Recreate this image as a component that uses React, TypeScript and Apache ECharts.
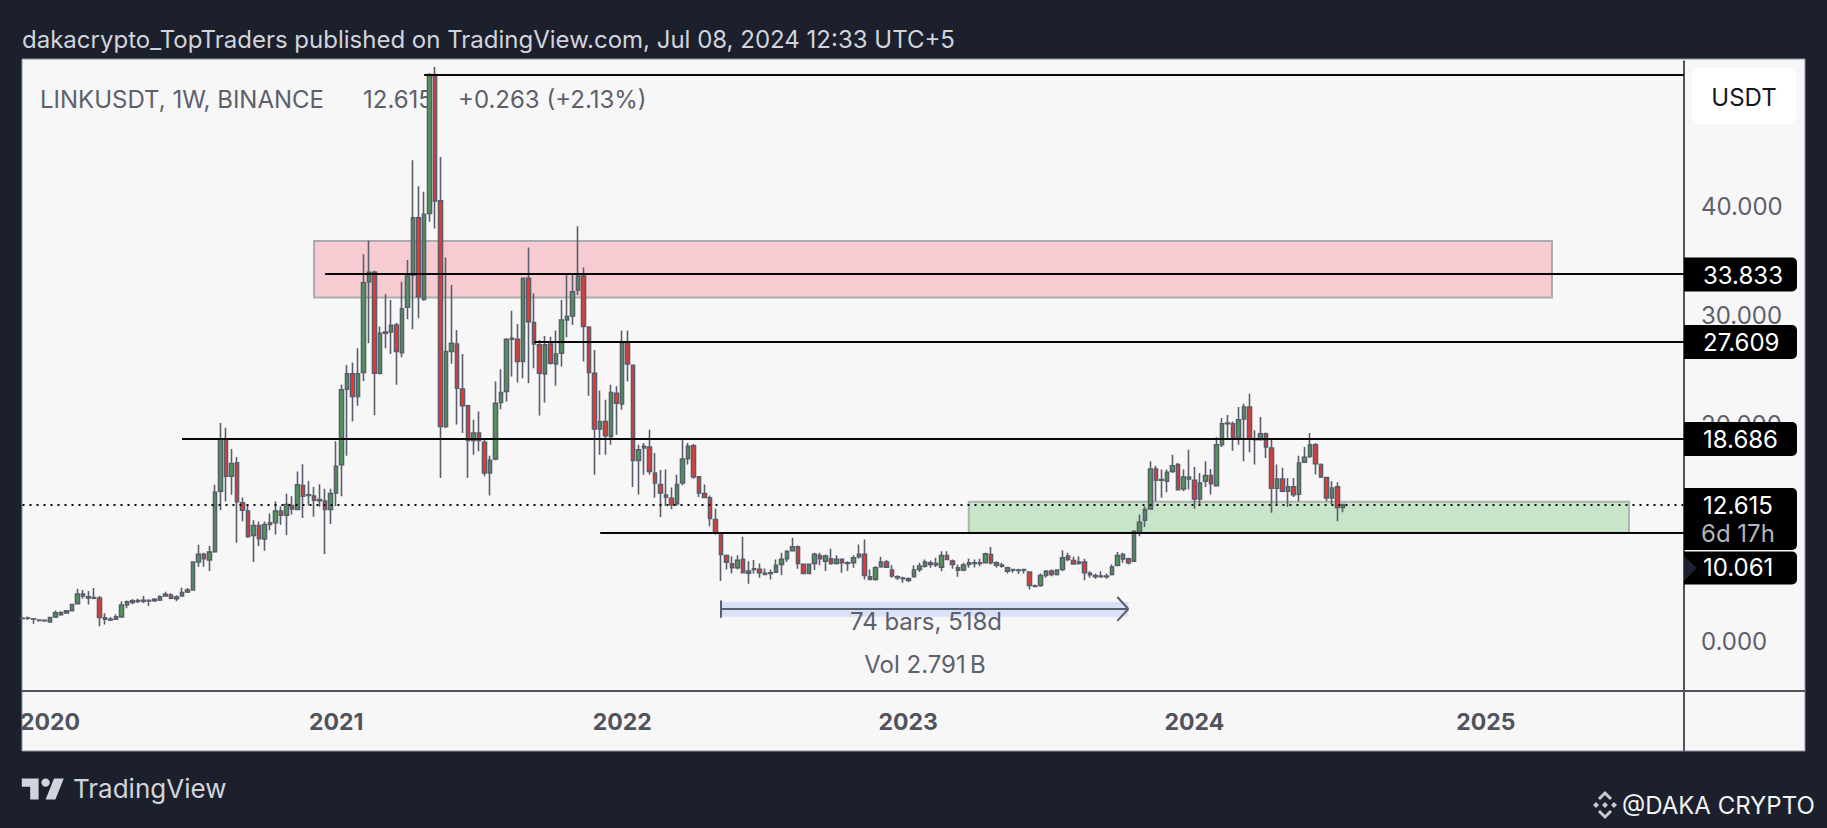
import React, { useEffect, useRef } from "react";
import * as echarts from "echarts";

// Weekly candles: [open, close, low, high]
const bars2019 = [
  [2.14,2.17,2.07,2.26],[2.16,2.19,2.0,2.32],[2.12,2.09,1.65,2.16],[1.99,1.96,1.86,2.0],[1.95,1.97,1.85,2.01],
];
const bars2020 = [
  [1.83,2.23,1.8,2.29],[2.29,2.66,2.2,2.87],[2.5,2.69,2.4,2.8],[2.66,2.84,2.6,2.93],[2.87,3.42,2.81,3.48],
  [3.51,4.4,3.42,4.89],[4.22,4.4,3.97,4.77],[4.03,4.15,3.42,4.67],[4.0,4.06,3.91,4.95],[4.03,2.23,1.43,4.22],
  [2.2,2.07,1.59,2.62],[2.07,2.01,1.92,2.29],[2.07,2.29,2.01,2.53],[2.29,3.39,2.23,3.72],[3.39,3.67,3.08,3.79],
  [3.63,3.76,3.45,3.94],[3.72,3.79,3.57,3.97],[3.73,3.82,3.54,4.22],[3.76,3.79,3.3,3.91],[3.79,3.91,3.67,4.03],
  [3.85,4.15,3.76,4.28],[4.22,4.37,4.15,4.61],[4.31,4.0,3.91,4.46],[3.97,4.12,3.73,4.28],[4.22,4.52,4.15,4.98],
  [4.58,4.77,4.49,4.95],[4.77,7.34,4.71,7.4],[7.34,8.04,6.91,8.93],[8.04,7.64,6.91,8.19],[7.52,8.25,6.51,8.81],
  [8.29,13.76,8.19,14.44],[13.86,18.6,12.11,20.13],[18.66,15.23,12.91,19.7],[15.23,16.39,13.52,17.74],[16.46,12.88,9.11,17.0],
  [12.78,12.11,11.1,13.27],[12.02,9.66,9.57,12.6],[9.79,10.7,7.34,11.19],[10.7,9.48,8.81,11.07],[9.45,10.79,8.38,11.07],
  [10.79,10.95,10.27,11.8],[10.95,12.02,9.88,12.91],[12.02,11.65,10.76,12.48],[11.65,12.63,9.82,13.61],[12.54,12.23,11.71,13.4],
  [12.17,14.44,12.11,15.66],[14.38,13.4,11.38,16.33],[13.46,13.52,12.54,14.8],[13.4,13.03,11.5,14.25],[12.97,13.09,12.42,14.5],
  [12.94,12.17,8.07,14.07],[12.17,13.64,10.83,14.07],
];
const bars2021 = [
  [13.7,16.15,12.48,18.45],[16.29,23.18,13.39,23.64],[23.24,24.65,17.12,25.47],[24.65,22.57,20.27,25.69],[22.57,24.65,21.71,27.0],
  [24.77,33.03,24.0,35.66],[33.12,33.98,27.46,36.89],[33.98,24.71,20.83,34.13],[24.71,28.38,24.6,29.0],[28.38,28.5,27.0,31.96],
  [28.5,29.11,26.48,31.44],[29.14,26.7,23.64,29.36],[26.6,30.64,26.18,33.12],[30.77,33.64,29.67,35.11],[33.73,39.0,28.75,44.3],
  [39.0,31.75,29.76,41.9],[31.5,39.33,31.38,41.39],[39.4,52.19,38.63,52.31],[52.19,40.56,38.02,52.88],[40.56,19.81,15.07,44.6],
  [19.81,26.7,19.66,35.36],[26.7,27.46,25.57,32.82],[27.4,23.33,19.98,28.69],[23.24,21.71,19.2,26.48],[21.71,18.53,15.07,21.8],
  [18.53,19.2,17.21,20.43],[19.2,18.53,17.52,21.18],[18.35,15.53,15.22,18.59],[15.53,16.69,13.45,17.12],[16.81,21.95,16.69,23.94],
  [22.01,22.93,21.4,25.07],[23.03,27.83,22.11,27.92],[27.83,27.92,24.4,30.46],[27.83,25.78,23.85,29.24],[25.78,33.43,24.25,33.43],
  [33.43,29.45,23.79,36.27],[29.36,27.4,25.17,32.05],[27.31,24.71,20.82,27.77],[24.65,27.31,22.02,28.14],[27.4,25.63,25.48,28.07],
  [25.57,26.48,23.55,28.63],[26.54,29.6,25.32,31.44],[29.6,29.91,28.01,33.83],[29.97,32.2,29.15,33.83],[32.36,33.64,31.9,38.23],
  [33.64,29.0,25.78,34.44],[28.93,24.77,22.63,29.05],[24.71,19.57,15.37,26.85],[19.57,20.27,17.21,23.12],[20.27,18.96,17.21,22.26],
  [18.9,22.93,18.13,23.64],[22.87,21.95,19.05,23.5],
];
const bars2022 = [
  [21.89,27.52,21.34,28.63],[27.52,25.57,23.94,28.63],[25.44,16.69,14.24,25.47],[16.69,17.67,13.54,18.13],[17.83,17.98,15.37,18.28],
  [17.92,15.68,15.37,19.5],[15.53,14.61,13.24,17.36],[14.46,13.69,11.47,15.8],[13.5,13.3,12.5,15.86],[13.2,12.6,12.2,14.2],
  [12.7,14.46,12.5,15.37],[14.61,16.81,14.4,18.6],[16.85,17.98,16.3,18.28],[18.04,15.17,15.0,18.2],[15.17,13.7,13.33,15.23],
  [13.64,13.27,13.24,14.46],[13.24,11.34,10.64,13.45],[11.25,10.03,9.87,12.23],[9.97,8.04,5.59,10.03],[7.94,7.33,6.66,8.04],
  [7.18,6.81,6.29,7.88],[6.81,7.49,6.66,7.95],[7.58,6.35,6.29,9.66],[6.5,6.32,5.34,7.42],[6.66,6.72,6.29,7.52],
  [6.66,6.35,5.9,7.21],[6.29,6.2,6.11,6.75],[6.29,6.35,5.74,6.66],[6.41,7.03,6.35,7.58],[7.12,7.58,6.11,8.19],
  [7.64,8.31,7.33,8.44],[8.37,8.74,8.34,9.57],[8.74,7.21,6.72,8.86],[7.12,6.29,6.23,7.21],[6.29,7.12,6.23,7.21],
  [7.21,8.04,6.6,8.19],[7.94,7.64,7.03,8.19],[7.42,7.88,6.51,8.04],[7.64,7.21,7.09,8.56],[7.21,7.58,7.12,7.95],
  [7.58,7.27,6.35,7.64],[7.21,7.27,6.51,7.4],[7.27,7.73,6.81,7.95],[7.82,8.04,7.64,8.95],[8.04,6.11,5.74,9.41],
  [5.99,5.74,5.68,6.66],[5.74,6.81,5.62,6.97],[6.91,7.33,6.81,7.82],[7.33,6.87,6.78,7.52],[6.6,6.05,5.9,7.03],
  [5.99,5.9,5.68,6.11],[5.8,5.87,5.44,5.99],
];
const bars2023 = [
  [5.8,5.65,5.5,5.93],[5.99,6.6,5.93,7.03],[6.66,6.97,6.41,7.27],[6.96,7.33,6.81,7.57],[7.27,7.11,6.81,7.48],
  [7.08,7.2,6.87,7.73],[6.87,7.94,6.5,8.34],[7.94,7.57,7.51,8.34],[7.42,7.11,6.72,7.57],[6.81,6.59,5.98,7.11],
  [6.62,7.05,6.5,7.27],[7.11,7.27,6.81,7.66],[7.2,7.27,6.84,7.57],[7.27,7.2,6.96,7.63],[7.27,8.09,7.2,8.18],
  [8.03,7.27,7.11,8.73],[7.05,7.27,6.81,7.42],[7.05,6.96,6.81,7.27],[6.5,6.81,6.29,6.9],[6.59,6.65,6.35,6.72],
  [6.59,6.56,6.23,6.72],[6.59,6.65,6.29,6.72],[6.41,5.19,4.82,6.47],[5.16,5.1,5.06,5.28],[5.19,6.1,5.06,6.29],
  [6.1,6.5,5.89,6.59],[6.5,6.2,6.04,6.65],[6.2,6.59,6.1,6.65],[6.65,7.72,6.5,8.43],[7.88,7.57,7.42,8.18],
  [7.48,7.17,7.08,7.82],[7.2,7.33,7.11,7.88],[7.33,6.35,5.67,7.63],[6.29,6.17,5.89,6.5],[6.1,5.98,5.8,6.29],
  [6.04,5.98,5.89,6.5],[5.98,6.04,5.8,6.29],[6.2,6.87,6.1,7.11],[7.02,7.94,6.96,8.25],[7.63,8.03,7.27,8.18],
  [7.63,7.27,7.11,7.73],[7.42,10.17,7.33,10.26],[10.08,11.0,9.72,11.7],[11.19,12.16,10.57,12.47],[12.23,15.9,12.16,16.6],
  [15.9,14.86,12.93,16.2],[14.86,14.92,13.24,15.84],[14.77,15.59,13.76,15.84],[15.68,16.2,15.53,17.21],[16.3,14.0,13.94,16.45],
  [14.06,15.16,13.85,15.84],[14.98,15.16,14.0,17.67],
];
const bars2024 = [
  [14.86,13.14,12.23,16.08],[13.14,14.61,12.62,15.53],[14.77,15.29,14.25,16.6],[15.29,14.55,13.54,15.9],[14.37,18.13,14.31,18.83],
  [18.13,20.06,17.92,20.58],[20.06,20.12,18.75,20.86],[20.06,18.74,17.58,20.27],[18.74,20.43,18.13,21.59],[20.49,21.59,16.6,21.89],
  [21.59,18.65,17.43,22.81],[18.65,18.59,16.3,19.45],[18.59,19.14,18.53,20.67],[19.14,17.92,16.91,19.26],[17.83,14.12,11.86,18.65],
  [14.12,14.98,12.62,16.3],[14.98,13.85,13.76,16.0],[13.85,14.25,12.41,15.07],[14.25,13.54,13.33,15.07],[13.57,16.45,12.93,17.12],
  [16.51,16.97,16.45,17.92],[17.06,18.13,16.91,19.2],[18.13,16.39,15.38,18.28],[16.3,15.16,15.07,16.39],[15.1,13.23,12.93,15.16],
  [13.23,14.15,12.62,14.77],[14.25,12.35,11.09,14.67],[12.352,12.615,11.92,12.68],
];

const candles = [...bars2019, ...bars2020, ...bars2021, ...bars2022, ...bars2023, ...bars2024];

// Time axis: one slot per week, from the first Monday visible to the price scale
const firstWeek = Date.UTC(2019, 11, 2);
const weekCount = 303;
const weeks = Array.from({ length: weekCount }, (_, i) =>
  new Date(firstWeek + i * 7 * 86400000).toISOString().slice(0, 10)
);
const yearBars = [5, 57, 109, 161, 213, 266];
const yearLabels = ["2020", "2021", "2022", "2023", "2024", "2025"];

// Drawn levels: [value, first bar]
const lineLevels = [
  [52.19, 73],
  [33.833, 55],
  [27.609, 93],
  [18.686, 29],
  [10.061, 105],
];
const lastPrice = 12.615;
const redZone = { fromBar: 53, toBar: 278, top: 36.87, bottom: 31.67 };
const greenZone = { fromBar: 172, toBar: 292, top: 12.88, bottom: 10.03 };
const rangeTool = { fromBar: 127, toBar: 201, mid: 3.02, top: 3.69, bottom: 2.31 };

const priceBadges = ["33.833", "27.609", "18.686"];
const hiddenPriceLabels = [-10, 10, 50];

const FONT = "Inter, 'Noto Sans', sans-serif";
const INK = "#5d606b";
const BODY_BORDER = "#5a5d6b";
const TV_LOGO = "M14 6H2v6h6v9h6V6Zm12 15h-7l6-15h7l-6 15Zm-7-9a3 3 0 1 0 0-6 3 3 0 0 0 0 6Z";

function text(str: string, x: number, y: number, fill: string, size: number, z: number, align = "left", weight = "normal") {
  return {
    type: "text",
    z,
    silent: true,
    style: {
      text: str, x, y, fill,
      font: `${weight} ${size}px ${FONT}`,
      align, verticalAlign: "middle",
      textAlign: align, textVerticalAlign: "middle",
    },
  };
}

function badge(y: number, height: number) {
  return {
    type: "rect", z: 50, silent: true,
    shape: { x: 1684, y: y - height / 2, width: 113, height, r: [0, 5, 5, 0] },
    style: { fill: "#000000" },
  };
}

export default function App() {
  const ref = useRef<HTMLDivElement>(null);
  useEffect(() => {
    document.body.style.margin = "0";
    document.body.style.background = "#1c202c";
    echarts.graphic.registerShape("tvmark", echarts.graphic.extendPath(TV_LOGO, {}));

    const chart = echarts.init(ref.current!, undefined, { renderer: "svg" });

    const blackLine = { color: "#080808", width: 2, type: "solid" };
    const toolLine = { color: "#5a5d6b", width: 2, type: "solid" };
    const markLines: any[] = lineLevels.map(([value, bar]) => [
      { coord: [bar, value], lineStyle: blackLine },
      { coord: [weekCount - 1, value] },
    ]);
    markLines.push([
      { coord: [0, lastPrice], lineStyle: { color: "#0a0a0a", width: 2, type: [2, 5] } },
      { coord: [weekCount - 1, lastPrice] },
    ]);
    const t = rangeTool;
    markLines.push(
      [{ coord: [t.fromBar, t.mid], lineStyle: toolLine }, { coord: [t.toBar, t.mid] }],
      [{ coord: [t.fromBar, t.top + 0.1], lineStyle: toolLine }, { coord: [t.fromBar, t.bottom - 0.1] }],
      [{ coord: [t.toBar - 2, t.mid + 1.1], lineStyle: toolLine }, { coord: [t.toBar, t.mid] }],
      [{ coord: [t.toBar - 2, t.mid - 1.1], lineStyle: toolLine }, { coord: [t.toBar, t.mid] }]
    );

    const zone = (z: any, fill: string, border: string) => [
      { coord: [z.fromBar, z.top], itemStyle: { color: fill, borderColor: border, borderWidth: 2 } },
      { coord: [z.toBar, z.bottom] },
    ];

    chart.setOption({
      animation: false,
      backgroundColor: "#1c202c",
      textStyle: { fontFamily: FONT },
      grid: { left: 22.5, right: 143, top: 61.3, bottom: 77.5, containLabel: false },
      xAxis: {
        type: "category",
        data: weeks,
        boundaryGap: false,
        axisLine: { show: false },
        axisTick: { show: false },
        splitLine: { show: false },
        axisLabel: {
          inside: true,
          margin: 17,
          hideOverlap: false,
          interval: (i: number) => yearBars.includes(i),
          formatter: (v: string) => {
            const at = yearBars.indexOf(weeks.indexOf(v));
            return at >= 0 ? yearLabels[at] : "";
          },
          color: "#50535e",
          fontSize: 23,
          fontWeight: "bold",
          fontFamily: FONT,
        },
      },
      yAxis: {
        type: "value",
        position: "right",
        min: -10,
        max: 53.4,
        interval: 10,
        scale: false,
        splitLine: { show: false },
        axisTick: { show: false },
        axisLine: { show: true, onZero: false, lineStyle: { color: "#50535e", width: 2 } },
        axisLabel: {
          margin: 17,
          showMaxLabel: false,
          color: INK,
          fontSize: 24,
          fontFamily: FONT,
          formatter: (v: number) => (hiddenPriceLabels.includes(v) ? "" : v.toFixed(3)),
        },
        z: 3,
      },
      series: [
        {
          type: "candlestick",
          data: candles,
          barWidth: 4,
          z: 10,
          itemStyle: {
            color: "#4e9a58",
            color0: "#f0372f",
            borderColor: BODY_BORDER,
            borderColor0: BODY_BORDER,
            borderWidth: 1.6,
          },
          silent: true,
          markArea: {
            silent: true,
            z: 1,
            data: [
              zone(redZone, "#f6ccd2", "#a9abaf"),
              zone(greenZone, "#c9e5c9", "#aeb4ae"),
              [
                { coord: [t.fromBar, t.top], itemStyle: { color: "#d8e1f6" } },
                { coord: [t.toBar, t.bottom] },
              ],
            ],
          },
          markLine: { silent: true, symbol: "none", label: { show: false }, z: 20, data: markLines },
        },
      ],
      graphic: [
        // panel behind the plot
        { type: "rect", z: 0, silent: true, shape: { x: 22, y: 59, width: 1783, height: 692 }, style: { fill: "#f7f7f7", stroke: "#8f929c", lineWidth: 1 } },
        text("dakacrypto_TopTraders published on TradingView.com, Jul 08, 2024 12:33 UTC+5", 22, 39, "#d1d4dc", 24, 1),
        text("LINKUSDT, 1W, BINANCE", 40, 99, INK, 24, 1),
        text("12.615", 363, 99, INK, 24, 1),
        text("+0.263 (+2.13%)", 458, 99, INK, 24, 1),
        // time scale
        { type: "line", z: 5, silent: true, shape: { x1: 22, y1: 691, x2: 1805, y2: 691 }, style: { stroke: "#50535e", lineWidth: 2 } },
        // range tool captions
        text("74 bars, 518d", 926, 621, INK, 24, 30, "center"),
        text("Vol 2.791\u202FB", 925, 664, INK, 24, 30, "center"),
        // currency button
        { type: "rect", z: 40, silent: true, shape: { x: 1692, y: 68, width: 104, height: 56, r: 8 }, style: { fill: "#ffffff" } },
        text("USDT", 1744, 97, "#131722", 24, 41, "center"),
        // price badges
        badge(274.5, 34), badge(342, 34), badge(439, 34),
        badge(519, 62),
        badge(568, 33),
        { type: "polygon", z: 51, silent: true, shape: { points: [[1684, 556], [1697, 568], [1684, 581]] }, style: { fill: "#1c2233" } },
        text(priceBadges[0], 1703, 275, "#ffffff", 24, 52),
        text(priceBadges[1], 1703, 342, "#ffffff", 24, 52),
        text(priceBadges[2], 1703, 439, "#ffffff", 24, 52),
        text("12.615", 1703, 505, "#ffffff", 24, 52),
        text("6d 17h", 1701, 533, "#b2b5be", 24, 52),
        text("10.061", 1703, 567, "#ffffff", 24, 52),
        // footer
        { type: "tvmark", z: 5, silent: true, x: 19, y: 770, scaleX: 1.4, scaleY: 1.4, style: { fill: "#d1d4dc" } },
        text("TradingView", 73, 788, "#d1d4dc", 26, 5),
        text("@DAKA CRYPTO", 1622, 805, "#f2f2f2", 24, 5),
        { type: "polygon", z: 5, silent: true, shape: { points: [[1605, 802], [1608, 805], [1605, 808], [1602, 805]] }, style: { fill: "#c8cad0" } },
        { type: "polyline", z: 5, silent: true, shape: { points: [[1599, 799], [1605, 793], [1611, 799]] }, style: { stroke: "#c8cad0", lineWidth: 3, fill: "none" } },
        { type: "polyline", z: 5, silent: true, shape: { points: [[1599, 811], [1605, 817], [1611, 811]] }, style: { stroke: "#c8cad0", lineWidth: 3, fill: "none" } },
        { type: "polygon", z: 5, silent: true, shape: { points: [[1596, 802], [1599, 805], [1596, 808], [1593, 805]] }, style: { fill: "#c8cad0" } },
        { type: "polygon", z: 5, silent: true, shape: { points: [[1614, 802], [1617, 805], [1614, 808], [1611, 805]] }, style: { fill: "#c8cad0" } },
      ],
    });
    return () => chart.dispose();
  }, []);
  return <div ref={ref} style={{ position: "absolute", left: 0, top: 0, width: 1827, height: 828 }} />;
}
